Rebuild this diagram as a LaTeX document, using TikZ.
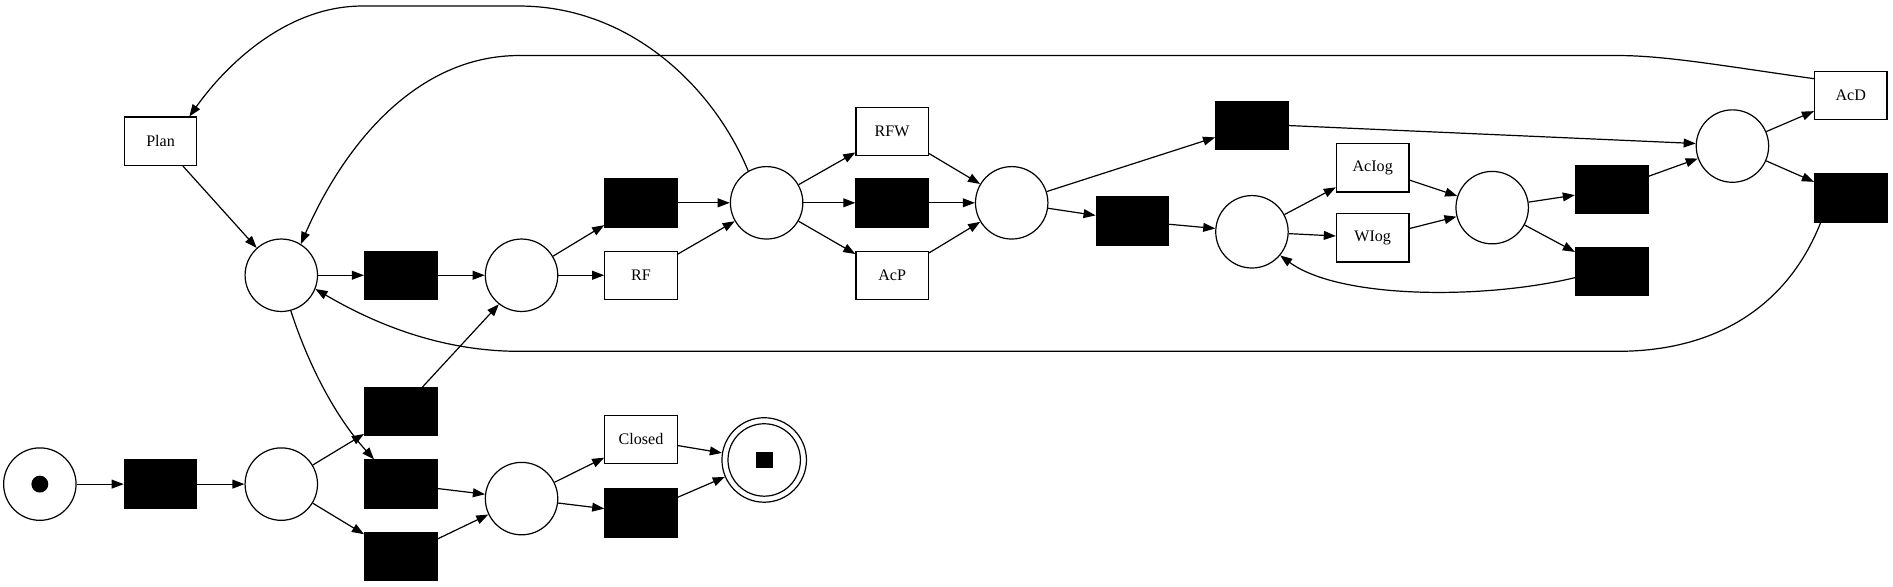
\documentclass[tikz,border=0pt]{standalone}
\usepackage{fontspec}
\setmainfont{Liberation Serif}
\usetikzlibrary{arrows.meta,calc}
\begin{document}
\begin{tikzpicture}[x=0.6pt,y=-0.6pt,
  every node/.style={font=\fontsize{8pt}{9pt}\selectfont},
  place/.style={circle,draw,line width=0.6pt,minimum size=36pt,inner sep=0pt},
  trans/.style={rectangle,draw,line width=0.6pt,minimum width=36pt,minimum height=24pt,inner sep=0pt},
  btrans/.style={trans,fill=black},
  arc/.style={line width=0.6pt,-{Triangle[length=6pt,width=4.4pt]}},
]
\useasboundingbox (0,0) rectangle (1568,486);
% places
\node[place] (ps) at (33,401) {};
\fill (ps.center) circle (4.2pt);
\node[place] (p1) at (233,401) {};
\node[place] (p2) at (432,413) {};
\node[circle,draw,line width=0.6pt,minimum size=42pt,inner sep=0pt] (pf) at (633,381) {};
\node[place] (pfi) at (633,381) {};
\fill ($(pf.center)+(-4.2pt,-4.2pt)$) rectangle ($(pf.center)+(4.2pt,4.2pt)$);
\node[place] (pa) at (233,228) {};
\node[place] (pb) at (432,228) {};
\node[place] (pc) at (635,168) {};
\node[place] (pd) at (838,168) {};
\node[place] (pe) at (1037,192) {};
\node[place] (pff) at (1236,172) {};
\node[place] (pg) at (1435,121) {};
% transitions
\node[btrans] (t1) at (133,401) {};
\node[btrans] (tu) at (332,341) {};
\node[btrans] (tm) at (332,401) {};
\node[btrans] (tl) at (332,461) {};
\node[trans] (tcl) at (531,364) {Closed};
\node[btrans] (tb2) at (531,425) {};
\node[trans] (plan) at (133,117) {Plan};
\node[btrans] (ta) at (332,228) {};
\node[btrans] (tc) at (531,168) {};
\node[trans] (rf) at (531,228) {RF};
\node[trans] (rfw) at (739,109) {RFW};
\node[btrans] (td) at (739,168) {};
\node[trans] (acp) at (739,228) {AcP};
\node[btrans] (te) at (1037,104) {};
\node[btrans] (tf) at (938,183) {};
\node[trans] (aciog) at (1137,139) {AcIog};
\node[trans] (wiog) at (1137,197) {WIog};
\node[btrans] (tg) at (1335,157) {};
\node[btrans] (th) at (1335,225) {};
\node[trans] (acd) at (1533,79) {AcD};
\node[btrans] (ti) at (1533,164) {};
% arcs
\draw[arc] (ps) -- (t1);
\draw[arc] (t1) -- (p1);
\draw[arc] (p1) -- (tu);
\draw[arc] (p1) -- (tl);
\draw[arc] (tm) -- (p2);
\draw[arc] (tl) -- (p2);
\draw[arc] (tu.north) ++(18,0) -- (pb.-128);
\draw[arc] (p2) -- (tcl);
\draw[arc] (p2) -- (tb2);
\draw[arc] (tcl) -- (pf);
\draw[arc] (tb2) -- (pf);
\draw[arc] (plan) -- (pa);
\draw[arc] (pa.-75) .. controls (258,310) and (282,350) .. ([xshift=5pt]tm.north west);
\draw[arc] (pa) -- (ta);
\draw[arc] (ta) -- (pb);
\draw[arc] (pb) -- (tc);
\draw[arc] (pb) -- (rf);
\draw[arc] (tc) -- (pc);
\draw[arc] (rf) -- (pc);
\draw[arc] (pc) -- (rfw);
\draw[arc] (pc) -- (td);
\draw[arc] (pc) -- (acp);
\draw[arc] (rfw) -- (pd);
\draw[arc] (td) -- (pd);
\draw[arc] (acp) -- (pd);
\draw[arc] (pd) -- (te);
\draw[arc] (pd) -- (tf);
\draw[arc] (tf) -- (pe);
\draw[arc] (pe) -- (aciog);
\draw[arc] (pe) -- (wiog);
\draw[arc] (aciog) -- (pff);
\draw[arc] (wiog) -- (pff);
\draw[arc] (pff) -- (tg);
\draw[arc] (pff) -- (th);
\draw[arc] (tg) -- (pg);
\draw[arc] (te.east) -- (pg.176);
\draw[arc] (pg) -- (acd);
\draw[arc] (pg) -- (ti);
\draw[arc] (th.west) ++(0,5) .. controls (1230,248) and (1110,248) .. (pe.-40);
\draw[arc] (pc.120) .. controls (590,70) and (520,5) .. (430,5) -- (300,5) .. controls (240,5) and (190,50) .. ([xshift=-4pt]plan.north east);
\draw[arc] ([yshift=-4pt]acd.north west) .. controls (1430,55) and (1380,46) .. (1340,46) -- (430,46) .. controls (345,46) and (285,120) .. (pa.58);
\draw[arc] ([xshift=-15pt]ti.south) .. controls (1480,255) and (1420,291) .. (1340,291) -- (430,291) .. controls (365,291) and (310,268) .. (pa.-22);
\end{tikzpicture}
\end{document}
